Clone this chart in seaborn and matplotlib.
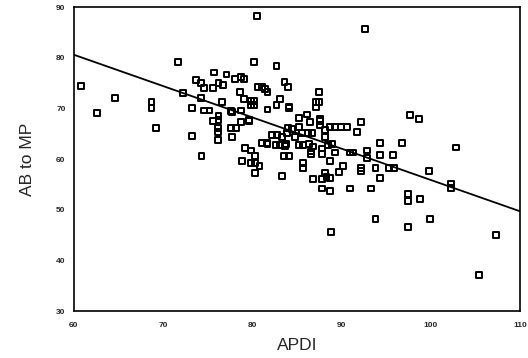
import numpy as np
import pandas as pd
import matplotlib
matplotlib.use("Agg")
import matplotlib.pyplot as plt
import seaborn as sns

# valores (APDI x AB to MP)
apdi = [60.8, 62.6, 64.6, 68.7, 68.7, 69.2, 71.7, 72.2, 73.2, 73.2,
        74.3, 73.7, 74.2, 74.6, 75.7, 75.6, 76.2, 76.7, 77.1, 74.2,
        74.6, 75.2, 76.6, 75.6, 76.2, 76.2, 76.1, 76.1, 76.1, 77.6,
        77.7, 77.6, 77.7, 78.2, 78.1, 78.7, 79.1, 78.6, 78.7, 78.7,
        79.6, 79.6, 79.1, 79.8, 80.2, 79.8, 80.2, 80.6, 81.1, 81.4,
        81.7, 81.7, 80.2, 80.5, 82.7, 83.6, 84.0, 83.1, 82.7, 84.1,
        84.1, 85.2, 84.0, 85.2, 79.2, 79.8, 80.3, 78.8, 79.8, 80.3,
        80.8, 80.3, 83.3, 81.1, 81.7, 81.6, 82.2, 82.8, 83.3, 83.9,
        82.6, 83.1, 83.7, 83.8, 83.5, 84.1, 84.4, 85.6, 86.2, 86.7,
        85.2, 85.7, 86.3, 86.8, 86.6, 86.6, 85.7, 85.7, 87.8, 87.8,
        88.1, 88.1, 89.3, 88.7, 90.2, 88.5, 88.9, 88.1, 88.3, 88.7,
        87.8, 86.8, 87.8, 88.7, 89.7, 86.1, 86.5, 87.6, 87.6, 87.6,
        87.5, 87.1, 87.5, 87.1, 88.7, 89.3, 89.9, 90.6, 91.7, 92.2,
        92.6, 97.7, 98.7, 90.9, 91.3, 92.8, 92.8, 94.3, 96.8, 94.3,
        95.8, 102.8, 92.2, 92.2, 93.8, 95.3, 95.9, 99.8, 94.3, 90.9,
        93.3, 102.3, 102.3, 97.4, 97.4, 98.8, 93.8, 99.9, 97.4, 88.8,
        107.3, 105.4, 84.8]
ab_mp = [74.4, 69.1, 72.1, 71.3, 70.1, 66.2, 79.1, 73.1, 70.1, 64.6,
         60.6, 75.6, 75.1, 74.1, 77.1, 74.1, 75.1, 74.6, 76.7, 72.1,
         69.6, 69.6, 71.3, 67.5, 68.6, 67.7, 66.2, 65.4, 63.7, 69.5,
         69.3, 66.2, 64.3, 66.2, 75.8, 76.2, 75.8, 73.3, 69.6, 67.4,
         67.7, 67.5, 71.8, 71.5, 71.5, 70.7, 70.7, 74.3, 74.3, 73.8,
         73.2, 69.8, 79.1, 88.3, 78.3, 75.2, 74.2, 71.8, 70.7, 70.4,
         70.1, 68.2, 66.1, 66.3, 62.2, 61.7, 60.7, 59.6, 59.2, 59.2,
         58.7, 57.3, 56.7, 63.2, 63.0, 63.2, 64.7, 64.7, 64.4, 65.1,
         62.8, 62.8, 62.6, 62.9, 60.7, 60.7, 65.9, 65.2, 65.2, 65.2,
         62.8, 62.8, 63.0, 62.5, 61.1, 61.5, 59.2, 58.3, 62.1, 61.1,
         64.4, 65.8, 61.3, 59.7, 58.7, 62.8, 63.0, 57.2, 56.4, 56.3,
         56.0, 56.1, 54.2, 53.7, 57.4, 68.8, 67.4, 67.6, 67.9, 66.7,
         73.2, 71.2, 71.2, 70.2, 66.3, 66.3, 66.3, 66.3, 65.3, 67.3,
         85.7, 68.7, 67.9, 61.3, 61.3, 61.7, 60.2, 63.2, 63.2, 60.8,
         60.8, 62.3, 58.2, 57.6, 58.2, 58.2, 58.2, 57.6, 56.2, 54.2,
         54.2, 55.2, 54.3, 53.2, 51.7, 52.1, 48.1, 48.1, 46.6, 45.6,
         45.1, 37.1, 64.4]

# reta de regressao (extremos)
fit_x = [60, 110]
fit_y = [80.6, 49.7]

df = pd.DataFrame({"APDI": apdi, "AB to MP": ab_mp})
fit = pd.DataFrame({"APDI": fit_x, "AB to MP": fit_y})

sns.set_style("white")
plt.rcParams["font.family"] = ["Liberation Sans", "DejaVu Sans"]

fig = plt.figure(figsize=(5.28, 3.58), dpi=100)
ax = fig.add_axes([0.14, 0.131, 0.845, 0.849])

sns.scatterplot(data=df, x="APDI", y="AB to MP", ax=ax, marker="s",
                s=18, facecolor="none", edgecolor="black", linewidth=1.4)
sns.lineplot(data=fit, x="APDI", y="AB to MP", ax=ax, color="black", lw=1.3)

ax.set_xlim(60, 110)
ax.set_ylim(30, 90)
ax.set_xticks([60, 70, 80, 90, 100, 110])
ax.set_xticks([65, 75, 85, 95, 105], minor=True)
ax.set_yticks([30, 40, 50, 60, 70, 80, 90])
ax.tick_params(axis="x", direction="in", length=4, width=1, labelsize=6, pad=8, which="both")
ax.tick_params(axis="y", direction="out", length=3, width=1, labelsize=6, pad=3)
for lab in ax.get_xticklabels() + ax.get_yticklabels():
    lab.set_fontweight("bold")

for s in ax.spines.values():
    s.set_visible(True)
    s.set_color("black")
    s.set_linewidth(1.2)

ax.set_xlabel("APDI", fontsize=12.5, labelpad=6)
ax.set_ylabel("AB to MP", fontsize=12.5, labelpad=15)

fig.savefig("out.png", dpi=100)
